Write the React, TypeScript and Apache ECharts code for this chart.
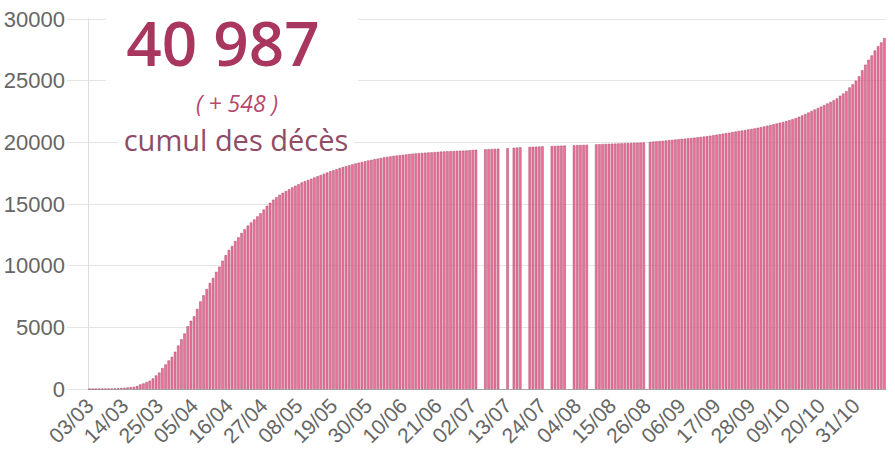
import React, { useEffect, useRef } from "react";
import * as echarts from "echarts";

// Cumulative hospital deaths, one value per day from 03/03 to 09/11 (null = no data published)
const march = [4, 4, 6, 9, 16, 19, 25, 33, 48, 61, 79, 91, 127, 148, 175, 244, 372, 450, 562, 674, 860, 1100, 1331, 1696, 1995, 2314, 2606, 3024, 3523];
const april = [4032, 4503, 5091, 5532, 5900, 6500, 7100, 7600, 8100, 8600, 9000, 9500, 9920, 10400, 10850, 11270, 11600, 12000, 12300, 12650, 12950, 13250, 13500, 13750, 14000, 14250, 14550, 14850, 15100, 15350];
const may = [15550, 15750, 15900, 16050, 16200, 16350, 16480, 16600, 16750, 16850, 16950, 17050, 17150, 17250, 17350, 17450, 17550, 17650, 17730, 17820, 17920, 18000, 18070, 18140, 18220, 18290, 18350, 18410, 18470, 18530, 18580];
const june = [18630, 18680, 18730, 18780, 18820, 18860, 18900, 18930, 18960, 18990, 19020, 19050, 19080, 19100, 19120, 19140, 19160, 19180, 19190, 19210, 19230, 19250, 19260, 19280, 19290, 19300, 19310, 19320, 19330, 19340];
const july = [19360, 19380, 19400, null, null, 19430, 19450, 19460, 19470, 19480, null, null, 19520, null, 19560, 19580, 19600, null, null, 19630, 19640, 19650, 19660, 19670, null, null, 19700, 19710, 19720, 19730, 19740];
const august = [null, null, 19760, 19770, 19780, 19790, 19800, null, null, 19840, 19850, 19860, 19870, 19880, 19890, 19900, 19910, 19920, 19930, 19940, 19950, 19960, 19970, 19980, 19990, null, 20040, 20060, 20080, 20100, 20120];
const september = [20150, 20180, 20200, 20230, 20250, 20280, 20300, 20330, 20350, 20380, 20410, 20440, 20470, 20500, 20540, 20580, 20620, 20660, 20700, 20740, 20780, 20830, 20870, 20920, 20960, 21000, 21050, 21090, 21130, 21180];
const october = [21230, 21290, 21350, 21410, 21470, 21530, 21590, 21650, 21720, 21800, 21880, 21970, 22070, 22180, 22300, 22420, 22540, 22660, 22780, 22900, 23020, 23150, 23280, 23420, 23560, 23780, 23960, 24150, 24450, 24700, 25000];
const november = [25350, 25850, 26300, 26700, 27050, 27450, 27800, 28100, 28450];

const monthBlocks: [string, number, (number | null)[]][] = [
  ["03", 3, march],
  ["04", 1, april],
  ["05", 1, may],
  ["06", 1, june],
  ["07", 1, july],
  ["08", 1, august],
  ["09", 1, september],
  ["10", 1, october],
  ["11", 1, november],
];

const categories: string[] = [];
const values: (number | null)[] = [];
monthBlocks.forEach(([mm, first, arr]) => {
  arr.forEach((v, i) => {
    const d = first + i;
    categories.push((d < 10 ? "0" + d : "" + d) + "/" + mm);
    values.push(v);
  });
});

const yTicks = [0, 5000, 10000, 15000, 20000, 25000, 30000];

const totalText = "40 987";
const deltaText = "( + 548 )";
const captionText = "cumul des décès";

export default function App() {
  const ref = useRef<HTMLDivElement>(null);
  useEffect(() => {
    document.body.style.margin = "0";
    const chart = echarts.init(ref.current!, undefined, { renderer: "svg" });
    chart.setOption({
      animation: false,
      backgroundColor: "#ffffff",
      grid: { left: 88, right: 9, top: 19, bottom: 73 },
      xAxis: {
        type: "category",
        data: categories,
        boundaryGap: true,
        axisLine: { show: true, lineStyle: { color: "#a8a8a8", width: 1 } },
        axisTick: { show: false },
        splitLine: { show: false },
        axisLabel: {
          interval: 10,
          rotate: 45,
          margin: 13,
          color: "#666",
          fontSize: 21,
          fontFamily: "Liberation Sans, Arial, sans-serif",
        },
      },
      yAxis: {
        type: "value",
        min: yTicks[0],
        max: yTicks[yTicks.length - 1],
        interval: 5000,
        axisLine: { show: true, lineStyle: { color: "#dddddd" } },
        axisTick: { show: true, length: 21, lineStyle: { color: "#e4e4e4" } },
        splitLine: { show: true, lineStyle: { color: "#e4e4e4", width: 1 } },
        axisLabel: {
          margin: 23,
          color: "#666",
          fontSize: 22,
          fontFamily: "Liberation Sans, Arial, sans-serif",
          formatter: (v: number) => String(v),
        },
      },
      series: [
        {
          type: "bar",
          data: values,
          barCategoryGap: "22%",
          itemStyle: { color: "#ed7399", borderColor: "#a9476a", borderWidth: 0.5 },
        },
      ],
      graphic: [
        { type: "rect", z: 100, shape: { x: 106, y: 4, width: 252, height: 92 }, style: { fill: "#ffffff" } },
        { type: "rect", z: 100, shape: { x: 118, y: 127, width: 236, height: 26 }, style: { fill: "#ffffff" } },
        {
          type: "text", z: 101, x: 223, y: 42,
          style: { text: totalText, font: '600 62px "Open Sans"', fill: "#a8365e", align: "center", verticalAlign: "middle", textAlign: "center", textVerticalAlign: "middle" },
        },
        {
          type: "text", z: 101, x: 237, y: 103,
          style: { text: deltaText, font: 'italic 23px "Open Sans"', fill: "#b8496c", align: "center", verticalAlign: "middle", textAlign: "center", textVerticalAlign: "middle" },
        },
        {
          type: "text", z: 101, x: 236, y: 139,
          style: { text: captionText, font: '29px "Open Sans"', fill: "#8f4c68", align: "center", verticalAlign: "middle", textAlign: "center", textVerticalAlign: "middle" },
        },
      ],
    });
    return () => chart.dispose();
  }, []);
  return <div ref={ref} style={{ position: "fixed", left: 0, top: 0, width: 895, height: 462 }} />;
}
